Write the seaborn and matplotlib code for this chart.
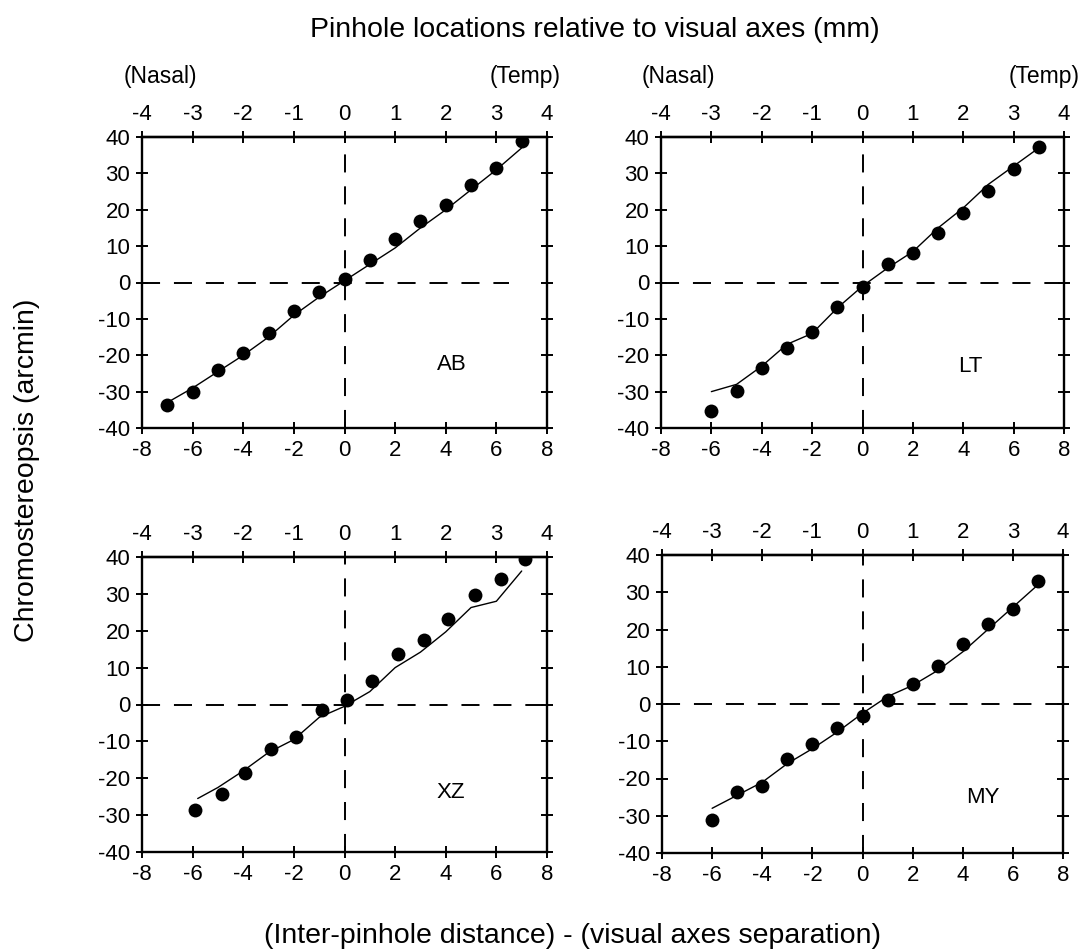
import numpy as np
import pandas as pd
import seaborn as sns
import matplotlib
matplotlib.use("Agg")
import matplotlib.pyplot as plt

# ---------------- data ----------------
ab_x = [-7, -6, -5, -4, -3, -2, -1, 0, 1, 2, 3, 4, 5, 6, 7]
ab_y = [-33.6, -30.2, -24.1, -19.4, -14.0, -7.8, -2.6, 1.0, 6.3, 11.9, 16.8, 21.3, 26.8, 31.5, 38.8]
ab_model = [-33.0, -29.0, -24.5, -20.0, -15.0, -9.0, -4.0, 0.5, 5.0, 9.5, 15.0, 20.0, 25.5, 31.0, 37.0]

lt_x = [-6, -5, -4, -3, -2, -1, 0, 1, 2, 3, 4, 5, 6, 7]
lt_y = [-35.2, -29.9, -23.5, -18.0, -13.6, -6.8, -1.3, 5.0, 8.2, 13.7, 19.1, 25.1, 31.1, 37.3]
lt_model = [-30.0, -28.0, -23.0, -17.0, -14.0, -7.0, -1.0, 4.0, 8.5, 15.0, 20.5, 27.0, 32.0, 37.0]

xz_x = [-5.9, -4.85, -3.95, -2.9, -1.9, -0.9, 0.1, 1.1, 2.1, 3.15, 4.1, 5.15, 6.2, 7.15]
xz_y = [-28.6, -24.4, -18.5, -12.1, -8.8, -1.5, 1.2, 6.3, 13.8, 17.4, 23.2, 29.8, 34.1, 39.5]
xz_mx = [-5.8, -5, -4, -3, -2, -1, 0, 1, 2, 3, 4, 5, 6, 7]
xz_model = [-25.5, -22.5, -18.0, -13.0, -9.5, -3.5, -0.5, 3.5, 10.0, 14.2, 19.7, 26.3, 28.0, 36.2]

my_x = [-6, -5, -4, -3, -2, -1, 0, 1, 2, 3, 4, 5, 6, 7]
my_y = [-31.1, -23.7, -22.1, -14.8, -10.8, -6.5, -3.2, 1.0, 5.5, 10.3, 16.1, 21.5, 25.5, 33.1]
my_model = [-28.0, -24.5, -21.0, -16.0, -12.0, -7.5, -2.5, 2.0, 5.0, 9.0, 14.0, 20.0, 26.0, 32.0]

subjects = ["AB", "LT", "XZ", "MY"]
bottom_ticks = [-8, -6, -4, -2, 0, 2, 4, 6, 8]
top_ticks = [-4, -3, -2, -1, 0, 1, 2, 3, 4]
y_ticks = [-40, -30, -20, -10, 0, 10, 20, 30, 40]

title_text = "Pinhole locations relative to visual axes (mm)"
ylabel_text = "Chromostereopsis (arcmin)"
xlabel_text = "(Inter-pinhole distance) - (visual axes separation)"

# ---------------- style ----------------
sns.set_style("ticks")
plt.rcParams["font.family"] = ["Liberation Sans", "DejaVu Sans"]
plt.rcParams["lines.scale_dashes"] = False
plt.rcParams["text.color"] = "black"
plt.rcParams["xtick.color"] = "black"
plt.rcParams["ytick.color"] = "black"
FS = 16
BIG = 20.5

W, H = 1085, 950
fig = plt.figure(figsize=(W / 100, H / 100), dpi=100)


def box(l, r, t, b):
    return [l / W, 1 - b / H, (r - l) / W, (b - t) / H]


rects = [box(142, 547, 137, 428), box(661, 1064, 137, 428),
         box(142, 547, 557, 852), box(662, 1063, 555, 853)]

panels = [
    (ab_x, ab_y, ab_x, ab_model, (4.25, -22.5), 6.5),
    (lt_x, lt_y, lt_x, lt_model, (4.3, -23), 8),
    (xz_x, xz_y, xz_mx, xz_model, (4.2, -24), 8),
    (my_x, my_y, my_x, my_model, (4.8, -25), 8),
]

for i, (rect, (px, py, mx, my, lab, hend)) in enumerate(zip(rects, panels)):
    ax = fig.add_axes(rect)
    pts = pd.DataFrame({"x": px, "y": py})
    mod = pd.DataFrame({"x": mx, "y": my})
    ax.plot([0, 0], [-40, 40], color="black", lw=1.4, ls=(0, (13, 10)), zorder=1)
    ax.plot([-8, hend], [0, 0], color="black", lw=1.4, ls=(0, (13, 10)), zorder=1)
    sns.lineplot(data=mod, x="x", y="y", ax=ax, color="black", lw=1.0,
                 estimator=None, sort=False, zorder=2)
    sns.scatterplot(data=pts, x="x", y="y", ax=ax, color="black", s=100,
                    edgecolor="black", linewidth=0, zorder=3)
    ax.set_xlim(-8, 8)
    ax.set_ylim(-40, 40)
    ax.set_xticks(bottom_ticks)
    ax.set_yticks(y_ticks)
    ax.set_xticklabels([str(t) for t in bottom_ticks], fontsize=FS)
    ax.set_yticklabels([str(t) for t in y_ticks], fontsize=FS)
    ax.set_xlabel("")
    ax.set_ylabel("")
    for s in ax.spines.values():
        s.set_linewidth(1.7)
        s.set_color("black")
    ax.tick_params(axis="both", direction="inout", length=9, width=1.4,
                   color="black", labelcolor="black", pad=4)
    ax.tick_params(axis="y", right=True)
    sec = ax.secondary_xaxis("top", functions=(lambda v: v / 2, lambda v: v * 2))
    sec.set_xticks(top_ticks)
    sec.set_xticklabels([str(t) for t in top_ticks], fontsize=FS)
    sec.tick_params(direction="inout", length=9, width=1.4, pad=4,
                    color="black", labelcolor="black")
    sec.spines["top"].set_linewidth(1.7)
    ax.text(lab[0], lab[1], subjects[i], fontsize=FS, ha="center", va="center",
            color="black")

# annotations
fig.text(595 / W, 1 - 30 / H, title_text, fontsize=BIG, ha="center", va="center")
fig.text(27 / W, 1 - 470 / H, ylabel_text, fontsize=BIG, ha="center", va="center",
         rotation=90)
fig.text(573 / W, 1 - 936 / H, xlabel_text, fontsize=BIG, ha="center", va="center")
for x, t in [(160, "(Nasal)"), (525, "(Temp)"), (678, "(Nasal)"), (1044, "(Temp)")]:
    fig.text(x / W, 1 - 77 / H, t, fontsize=16.5, ha="center", va="center")

fig.savefig("out.png", dpi=100, facecolor="white")
